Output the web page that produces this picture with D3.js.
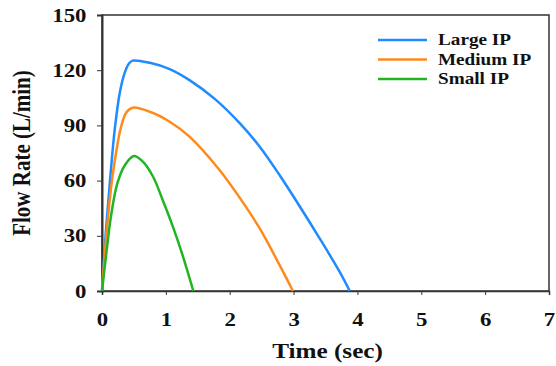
<!DOCTYPE html>
<html lang="en">
<head>
<script src="https://d3js.org/d3.v7.min.js"></script>
<style>
  body { margin: 0; background: #fff; }
  text { font-family: "Liberation Serif", "Times New Roman", serif; font-weight: bold; fill: #111; }
  .axis path, .axis line { stroke: #333; }
</style>
</head>
<body>
<svg id="chart" width="556" height="366"></svg>
<script>
// time (sec) and flow rate (L/min)
const largeT = [0, 0.06, 0.13, 0.2, 0.28, 0.355, 0.42, 0.48, 0.75, 1.06, 1.37, 1.77, 2.16, 2.47, 2.79, 3.1, 3.41, 3.72, 3.88];
const largeV = [0, 32, 62, 88, 108, 118.5, 123.5, 125.2, 124, 120.6, 114.6, 104.3, 91.1, 78.4, 62.5, 45.8, 28.5, 10.5, 0];
const mediumT = [0, 0.05, 0.15, 0.22, 0.29, 0.38, 0.48, 0.75, 1.06, 1.37, 1.84, 2.15, 2.47, 2.79, 2.99];
const mediumV = [0, 23, 58.5, 75, 88, 97, 99.6, 97.4, 92, 83.9, 65.8, 51, 34, 13.5, 0];
const smallT = [0, 0.073, 0.14, 0.24, 0.36, 0.5, 0.64, 0.8, 0.95, 1.11, 1.27, 1.43];
const smallV = [0, 22, 40.4, 58.5, 68.5, 73.4, 70.3, 62.1, 49.5, 35, 18.6, 0];

const seriesNames = ["Large IP", "Medium IP", "Small IP"];
const seriesColors = ["#1e8cff", "#ff8a1c", "#22b422"];
const xTicks = [0, 1, 2, 3, 4, 5, 6, 7];
const yTicks = [0, 30, 60, 90, 120, 150];

const series = [
  largeT.map((t, i) => [t, largeV[i]]),
  mediumT.map((t, i) => [t, mediumV[i]]),
  smallT.map((t, i) => [t, smallV[i]])
];

const svg = d3.select("#chart");
const mLeft = 102, mRight = 549, mTop = 15, mBottom = 291;
const stretch = 1.2;

const x = d3.scaleLinear().domain([0, 7]).range([mLeft, mRight]);
const y = d3.scaleLinear().domain([0, 150]).range([mBottom, mTop]);

// frame
svg.append("rect")
   .attr("x", mLeft).attr("y", mTop)
   .attr("width", mRight - mLeft).attr("height", mBottom - mTop)
   .attr("fill", "none").attr("stroke", "#333").attr("stroke-width", 1.5);

const xAxis = svg.append("g").attr("class", "axis")
   .attr("transform", `translate(0,${mBottom})`)
   .call(d3.axisBottom(x).tickValues(xTicks).tickFormat(d3.format("d")).tickSize(4).tickPadding(18));
xAxis.select(".domain").attr("stroke-width", 1.5);
xAxis.selectAll("text")
   .style("font-size", "19px")
   .attr("transform", `scale(${stretch},1)`);

const yAxis = svg.append("g").attr("class", "axis")
   .attr("transform", `translate(${mLeft},0)`)
   .call(d3.axisLeft(y).tickValues(yTicks).tickFormat(d3.format("d")).tickSize(5).tickPadding(8));
yAxis.select(".domain").attr("stroke-width", 2);
yAxis.selectAll("text")
   .style("font-size", "19px")
   .attr("transform", `scale(${stretch},1)`);

// lines
const line = d3.line()
   .x(d => x(d[0]))
   .y(d => y(d[1]))
   .curve(d3.curveCatmullRom.alpha(0.5));

svg.selectAll("path.flow")
   .data(series)
   .join("path")
   .attr("class", "flow")
   .attr("fill", "none")
   .attr("stroke", (d, i) => seriesColors[i])
   .attr("stroke-width", 2.5)
   .attr("d", line);

// axis titles
svg.append("text")
   .attr("transform", `translate(${(mLeft + mRight) / 2 + 2},358) scale(${stretch},1)`)
   .attr("text-anchor", "middle")
   .style("font-size", "21px")
   .text("Time (sec)");

svg.append("text")
   .attr("transform", `translate(30,153) scale(${stretch},1) rotate(-90)`)
   .attr("text-anchor", "middle")
   .style("font-size", "21px")
   .text("Flow Rate (L/min)");

// legend
const legend = svg.append("g");
seriesNames.forEach((name, i) => {
  const ly = 40 + i * 19.5;
  legend.append("line")
     .attr("x1", 378).attr("x2", 427)
     .attr("y1", ly).attr("y2", ly)
     .attr("stroke", seriesColors[i]).attr("stroke-width", 2.5);
  legend.append("text")
     .attr("transform", `translate(438,${ly + 5}) scale(${stretch},1)`)
     .style("font-size", "16px")
     .text(name);
});
</script>
</body>
</html>
